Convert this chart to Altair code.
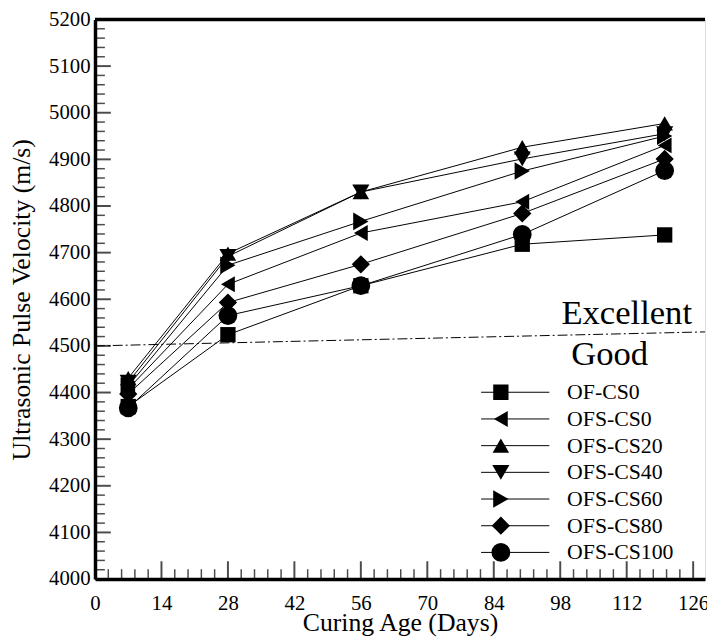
import altair as alt
import pandas as pd

# ---- data ----
days = [7, 28, 56, 90, 120]
series = ["OF-CS0", "OFS-CS0", "OFS-CS20", "OFS-CS40", "OFS-CS60", "OFS-CS80", "OFS-CS100"]
of_cs0 = [4370, 4524, 4629, 4718, 4738]
ofs_cs0 = [4408, 4632, 4742, 4809, 4930]
ofs_cs20 = [4431, 4698, 4830, 4926, 4977]
ofs_cs40 = [4422, 4692, 4830, 4901, 4955]
ofs_cs60 = [4414, 4673, 4767, 4875, 4950]
ofs_cs80 = [4397, 4593, 4675, 4784, 4901]
ofs_cs100 = [4367, 4565, 4629, 4739, 4876]
values = [of_cs0, ofs_cs0, ofs_cs20, ofs_cs40, ofs_cs60, ofs_cs80, ofs_cs100]

shapes = ["square", "triangle-left", "triangle-up", "triangle-down", "triangle-right", "diamond", "circle"]
sizes = [240, 360, 380, 380, 360, 380, 400]

# dash-dot boundary line between "Excellent" and "Good"
ref_days = [0, 128.5]
ref_vel = [4500, 4530]

# axis tick values
x_major = [0, 14, 28, 42, 56, 70, 84, 98, 112, 126]
x_minor = [round(i * 2.8, 1) for i in range(46) if i % 5 != 0]
y_major = list(range(4000, 5201, 100))
y_minor = [v for v in range(4000, 5201, 20) if v % 100 != 0]

X_DOMAIN = [0, 128.5]
Y_DOMAIN = [4000, 5200]
FONT = "Liberation Serif"

rows = []
for s, vals in zip(series, values):
    for d, v in zip(days, vals):
        rows.append({"series": s, "series_line": s, "day": d, "vel": v})
df = pd.DataFrame(rows)

xs = alt.Scale(domain=X_DOMAIN, nice=False, zero=False)
ys = alt.Scale(domain=Y_DOMAIN, nice=False, zero=False)

x_axis = alt.Axis(values=x_major, format="d", title="Curing Age (Days)", grid=False, ticks=False, tickSize=0,
                  labelFont=FONT, labelFontSize=21, labelColor="black", labelPadding=14,
                  titleFont=FONT, titleFontSize=26, titleFontWeight="normal", titleColor="black",
                  titlePadding=-4, domainColor="black", domainWidth=3.5, labelFlush=False)
y_axis = alt.Axis(values=y_major, format="d", title="Ultrasonic Pulse Velocity (m/s)", grid=False, ticks=False,
                  tickSize=0, labelFont=FONT, labelFontSize=21, labelColor="black", labelPadding=5,
                  titleFont=FONT, titleFontSize=26, titleFontWeight="normal", titleColor="black",
                  titlePadding=14, domainColor="black", domainWidth=3.5, labelFlush=False)

ref_df = pd.DataFrame({"day": ref_days, "vel": ref_vel})
ref_line = alt.Chart(ref_df).mark_line(color="black", strokeWidth=1, strokeDash=[10, 3, 2, 3]).encode(
    x=alt.X("day:Q", scale=xs, axis=x_axis),
    y=alt.Y("vel:Q", scale=ys, axis=y_axis),
)

lines = alt.Chart(df).mark_line(strokeWidth=1).encode(
    x=alt.X("day:Q", scale=xs),
    y=alt.Y("vel:Q", scale=ys),
    detail="series:N",
    color=alt.Color("series_line:N", sort=series,
                    scale=alt.Scale(range=["black"] * len(series)),
                    legend=alt.Legend(orient="none", legendX=390, legendY=364, title=None,
                                      symbolType="stroke", symbolSize=4761, symbolStrokeWidth=1,
                                      symbolStrokeColor="black", labelOpacity=0, labelFontSize=22,
                                      labelFont=FONT, clipHeight=26.1, rowPadding=0, padding=0,
                                      labelOffset=4)),
)

legend_shape = alt.Legend(orient="none", legendX=399.5, legendY=364, title=None,
                          labelFont=FONT, labelFontSize=22, labelColor="black", clipHeight=26.1,
                          rowPadding=0, padding=0, labelOffset=56, symbolFillColor="black",
                          symbolStrokeColor="black", symbolStrokeWidth=0, symbolOpacity=1)

points = alt.Chart(df).mark_point(filled=True, color="black", opacity=1).encode(
    x=alt.X("day:Q", scale=xs),
    y=alt.Y("vel:Q", scale=ys),
    shape=alt.Shape("series:N", scale=alt.Scale(domain=series, range=shapes), legend=legend_shape),
    size=alt.Size("series:N", scale=alt.Scale(domain=series, range=sizes), legend=legend_shape),
)

label_df = pd.DataFrame({"day": [112.0, 108.4], "vel": [4571, 4483], "txt": ["Excellent", "Good"]})
labels = alt.Chart(label_df).mark_text(font=FONT, fontSize=35, color="black").encode(
    x=alt.X("day:Q", scale=xs), y=alt.Y("vel:Q", scale=ys), text="txt:N")

# inward ticks
ymaj = alt.Chart(pd.DataFrame({"v": y_major})).mark_tick(orient="horizontal", size=16, thickness=2,
                                                         xOffset=8, color="black").encode(
    y=alt.Y("v:Q", scale=ys), x=alt.datum(0, scale=xs))
ymin = alt.Chart(pd.DataFrame({"v": y_minor})).mark_tick(orient="horizontal", size=10, thickness=1.5,
                                                         xOffset=5, color="black").encode(
    y=alt.Y("v:Q", scale=ys), x=alt.datum(0, scale=xs))
xmaj = alt.Chart(pd.DataFrame({"v": x_major})).mark_tick(orient="vertical", size=18, thickness=2,
                                                         yOffset=-9, color="black").encode(
    x=alt.X("v:Q", scale=xs), y=alt.datum(4000, scale=ys))
xmin = alt.Chart(pd.DataFrame({"v": x_minor})).mark_tick(orient="vertical", size=10, thickness=1.5,
                                                         yOffset=-5, color="black").encode(
    x=alt.X("v:Q", scale=xs), y=alt.datum(4000, scale=ys))

top = alt.Chart(pd.DataFrame({"v": [Y_DOMAIN[1]]})).mark_rule(color="black", strokeWidth=3.5).encode(
    y=alt.Y("v:Q", scale=ys))

chart = alt.layer(ref_line, ymin, ymaj, xmin, xmaj, top, lines, points, labels).properties(
    width=617, height=566,
    autosize=alt.AutoSizeParams(type="none"),
    padding={"left": 88, "top": 8, "right": 2, "bottom": 55},
).configure_view(stroke=None).configure(background="white", font=FONT).configure_legend(
    labelFont=FONT).configure_axis(labelFont=FONT, titleFont=FONT)

chart.save("out.html", embed_options={"renderer": "svg", "actions": False})
